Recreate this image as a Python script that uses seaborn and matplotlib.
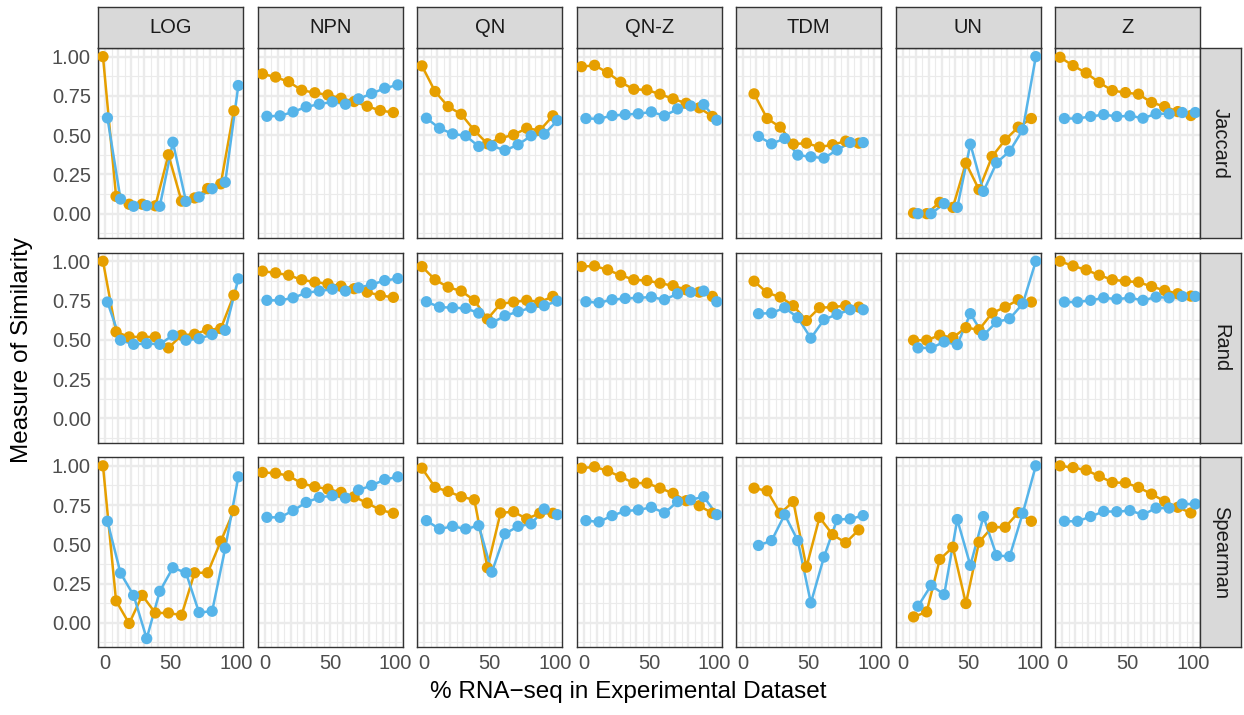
import numpy as np
import pandas as pd
import matplotlib
matplotlib.use("Agg")
import matplotlib.pyplot as plt
import seaborn as sns
from matplotlib.ticker import MultipleLocator, FuncFormatter

sns.set_theme(style="white")
plt.rcParams['font.family'] = ['Liberation Sans', 'DejaVu Sans']

# ---------------- data ----------------
methods = ["LOG", "NPN", "QN", "QN-Z", "TDM", "UN", "Z"]
metrics = ["Jaccard", "Rand", "Spearman"]
x_full = [0, 10, 20, 30, 40, 50, 60, 70, 80, 90, 100]
x_tdm = [10, 20, 30, 40, 50, 60, 70, 80, 90]
x_un = [10, 20, 30, 40, 50, 60, 70, 80, 90, 100]
x_labels = {0: "0", 50: "50", 100: "100"}
y_ticks = [0.0, 0.25, 0.5, 0.75, 1.0]

# Jaccard  (A = orange series, B = blue series)
LOG_J_A = [1.00, 0.11, 0.06, 0.06, 0.05, 0.375, 0.08, 0.10, 0.16, 0.19, 0.655]
LOG_J_B = [0.61, 0.093, 0.047, 0.051, 0.047, 0.455, 0.078, 0.106, 0.159, 0.20, 0.816]
NPN_J_A = [0.89, 0.87, 0.84, 0.786, 0.77, 0.756, 0.735, 0.714, 0.684, 0.657, 0.644]
NPN_J_B = [0.62, 0.623, 0.648, 0.68, 0.697, 0.712, 0.697, 0.731, 0.765, 0.799, 0.82]
QN_J_A = [0.941, 0.778, 0.682, 0.633, 0.53, 0.445, 0.481, 0.502, 0.544, 0.53, 0.623]
QN_J_B = [0.608, 0.544, 0.508, 0.496, 0.428, 0.432, 0.403, 0.439, 0.496, 0.506, 0.593]
QNZ_J_A = [0.936, 0.945, 0.898, 0.837, 0.792, 0.788, 0.761, 0.731, 0.703, 0.674, 0.619]
QNZ_J_B = [0.606, 0.604, 0.625, 0.631, 0.636, 0.648, 0.623, 0.667, 0.686, 0.695, 0.595]
TDM_J_A = [0.763, 0.606, 0.551, 0.443, 0.449, 0.424, 0.439, 0.462, 0.449]
TDM_J_B = [0.492, 0.445, 0.479, 0.373, 0.362, 0.354, 0.405, 0.453, 0.453]
UN_J_A = [0.004, 0.0, 0.072, 0.04, 0.322, 0.153, 0.364, 0.47, 0.551, 0.606]
UN_J_B = [0.0, 0.0, 0.064, 0.04, 0.443, 0.142, 0.324, 0.398, 0.534, 1.0]
Z_J_A = [0.996, 0.943, 0.896, 0.835, 0.784, 0.771, 0.761, 0.708, 0.682, 0.65, 0.625]
Z_J_B = [0.606, 0.606, 0.619, 0.631, 0.619, 0.623, 0.608, 0.636, 0.636, 0.644, 0.644]

# Rand
LOG_R_A = [1.0, 0.55, 0.518, 0.518, 0.518, 0.448, 0.529, 0.535, 0.564, 0.571, 0.784]
LOG_R_B = [0.74, 0.497, 0.471, 0.476, 0.471, 0.529, 0.497, 0.507, 0.533, 0.56, 0.888]
NPN_R_A = [0.937, 0.926, 0.911, 0.882, 0.867, 0.856, 0.841, 0.825, 0.803, 0.782, 0.77]
NPN_R_B = [0.751, 0.751, 0.767, 0.799, 0.81, 0.822, 0.81, 0.831, 0.852, 0.877, 0.89]
QN_R_A = [0.966, 0.882, 0.835, 0.81, 0.751, 0.632, 0.729, 0.74, 0.751, 0.74, 0.776]
QN_R_B = [0.742, 0.708, 0.704, 0.70, 0.67, 0.607, 0.653, 0.679, 0.704, 0.717, 0.746]
QNZ_R_A = [0.966, 0.97, 0.945, 0.911, 0.882, 0.877, 0.86, 0.844, 0.818, 0.803, 0.776]
QNZ_R_B = [0.742, 0.736, 0.755, 0.763, 0.767, 0.772, 0.755, 0.793, 0.803, 0.81, 0.742]
TDM_R_A = [0.873, 0.799, 0.772, 0.717, 0.622, 0.704, 0.708, 0.717, 0.708]
TDM_R_B = [0.666, 0.67, 0.704, 0.641, 0.51, 0.628, 0.662, 0.691, 0.691]
UN_R_A = [0.497, 0.497, 0.529, 0.514, 0.577, 0.564, 0.67, 0.708, 0.755, 0.74]
UN_R_B = [0.448, 0.448, 0.486, 0.469, 0.666, 0.529, 0.613, 0.634, 0.729, 1.0]
Z_R_A = [1.0, 0.97, 0.945, 0.911, 0.882, 0.873, 0.867, 0.839, 0.814, 0.793, 0.778]
Z_R_B = [0.74, 0.74, 0.751, 0.767, 0.759, 0.767, 0.751, 0.772, 0.767, 0.776, 0.776]

# Spearman
LOG_S_A = [1.0, 0.14, -0.004, 0.175, 0.063, 0.063, 0.049, 0.319, 0.319, 0.52, 0.715]
LOG_S_B = [0.647, 0.317, 0.175, -0.10, 0.201, 0.351, 0.319, 0.066, 0.074, 0.476, 0.93]
NPN_S_A = [0.958, 0.953, 0.937, 0.888, 0.867, 0.852, 0.831, 0.803, 0.763, 0.719, 0.698]
NPN_S_B = [0.672, 0.672, 0.715, 0.767, 0.799, 0.81, 0.795, 0.846, 0.875, 0.913, 0.93]
QN_S_A = [0.985, 0.863, 0.837, 0.803, 0.784, 0.351, 0.70, 0.708, 0.662, 0.698, 0.698]
QN_S_B = [0.651, 0.598, 0.615, 0.598, 0.619, 0.323, 0.567, 0.615, 0.63, 0.725, 0.689]
QNZ_S_A = [0.985, 0.994, 0.968, 0.93, 0.89, 0.89, 0.858, 0.825, 0.778, 0.746, 0.698]
QNZ_S_B = [0.651, 0.643, 0.683, 0.712, 0.719, 0.736, 0.70, 0.772, 0.784, 0.803, 0.689]
TDM_S_A = [0.858, 0.841, 0.698, 0.772, 0.355, 0.672, 0.562, 0.51, 0.592]
TDM_S_B = [0.493, 0.524, 0.689, 0.524, 0.127, 0.419, 0.658, 0.662, 0.683]
UN_S_A = [0.038, 0.07, 0.404, 0.482, 0.123, 0.514, 0.609, 0.609, 0.702, 0.647]
UN_S_B = [0.106, 0.239, 0.18, 0.658, 0.366, 0.677, 0.429, 0.423, 0.698, 1.0]
Z_S_A = [1.0, 0.989, 0.973, 0.934, 0.894, 0.892, 0.863, 0.82, 0.774, 0.736, 0.70]
Z_S_B = [0.647, 0.647, 0.677, 0.71, 0.708, 0.715, 0.689, 0.731, 0.731, 0.757, 0.757]

series_names = ["A", "B"]
palette = {"A": "#E69F00", "B": "#56B4E9"}
dodge = {"A": -1.7, "B": 1.7}

x_by_method = {"LOG": x_full, "NPN": x_full, "QN": x_full, "QN-Z": x_full,
               "TDM": x_tdm, "UN": x_un, "Z": x_full}
table = {
    "Jaccard": {"LOG": (LOG_J_A, LOG_J_B), "NPN": (NPN_J_A, NPN_J_B), "QN": (QN_J_A, QN_J_B),
                "QN-Z": (QNZ_J_A, QNZ_J_B), "TDM": (TDM_J_A, TDM_J_B), "UN": (UN_J_A, UN_J_B),
                "Z": (Z_J_A, Z_J_B)},
    "Rand": {"LOG": (LOG_R_A, LOG_R_B), "NPN": (NPN_R_A, NPN_R_B), "QN": (QN_R_A, QN_R_B),
             "QN-Z": (QNZ_R_A, QNZ_R_B), "TDM": (TDM_R_A, TDM_R_B), "UN": (UN_R_A, UN_R_B),
             "Z": (Z_R_A, Z_R_B)},
    "Spearman": {"LOG": (LOG_S_A, LOG_S_B), "NPN": (NPN_S_A, NPN_S_B), "QN": (QN_S_A, QN_S_B),
                 "QN-Z": (QNZ_S_A, QNZ_S_B), "TDM": (TDM_S_A, TDM_S_B), "UN": (UN_S_A, UN_S_B),
                 "Z": (Z_S_A, Z_S_B)},
}

records = []
for metric in metrics:
    for method in methods:
        xs = x_by_method[method]
        for sname, vals in zip(series_names, table[metric][method]):
            for x, v in zip(xs, vals):
                records.append({"metric": metric, "method": method, "series": sname,
                                "x": x, "value": v})
df = pd.DataFrame(records)
df["x_pos"] = df["x"] + df["series"].map(dodge)

# ---------------- layout ----------------
W, H = 1244, 715
fig = plt.figure(figsize=(W / 100, H / 100), dpi=100)
fig.patch.set_facecolor("white")

panel_w, panel_h = 145.3, 190.0
col_left = [98 + i * 159.5 for i in range(7)]
row_top = [48 + j * 204.6 for j in range(3)]
strip_sz = 40.7

def fx(px):
    return px / W

def fy(py):
    return 1 - py / H

border = "#333333"
grid_c = "#EBEBEB"
tick_fs = 14.5
strip_fs = 14.5

for j, metric in enumerate(metrics):
    for i, method in enumerate(methods):
        l, t = col_left[i], row_top[j]
        ax = fig.add_axes([fx(l), fy(t + panel_h), panel_w / W, panel_h / H])
        ax.set_facecolor("white")
        sub = df[(df["metric"] == metric) & (df["method"] == method)]
        sns.lineplot(data=sub, x="x_pos", y="value", hue="series", hue_order=series_names,
                     palette=palette, estimator=None, linewidth=1.8, legend=False, ax=ax,
                     zorder=2)
        sns.scatterplot(data=sub, x="x_pos", y="value", hue="series", hue_order=series_names,
                        palette=palette, s=66, linewidth=0, legend=False, ax=ax, zorder=3)
        ax.set_xlim(-5.5, 105.5)
        ax.set_ylim(-0.155, 1.055)
        ax.xaxis.set_major_locator(MultipleLocator(10))
        ax.xaxis.set_minor_locator(MultipleLocator(5))
        ax.yaxis.set_major_locator(MultipleLocator(0.25))
        ax.yaxis.set_minor_locator(MultipleLocator(0.125))
        ax.grid(which="major", color=grid_c, linewidth=1.7)
        ax.grid(which="minor", color=grid_c, linewidth=0.85)
        ax.set_axisbelow(True)
        for sp in ax.spines.values():
            sp.set_color(border)
            sp.set_linewidth(1.0)
        ax.set_xlabel("")
        ax.set_ylabel("")
        ax.tick_params(which="minor", length=0)
        ax.xaxis.set_major_formatter(FuncFormatter(lambda v, p: x_labels.get(int(round(v)), "")))
        ax.yaxis.set_major_formatter(FuncFormatter(lambda v, p: f"{v:.2f}"))
        ax.tick_params(axis="both", which="major", colors=border, labelcolor="#4D4D4D",
                       labelsize=tick_fs, length=3.2, width=1.0, pad=2)
        if j != len(metrics) - 1:
            ax.tick_params(axis="x", length=0, labelbottom=False)
        if i != 0:
            ax.tick_params(axis="y", length=0, labelleft=False)

        # top strips
        if j == 0:
            sax = fig.add_axes([fx(l), fy(t), panel_w / W, (t - 7.3) / H])
            sax.set_facecolor("#D9D9D9")
            sax.set_xticks([]); sax.set_yticks([])
            for sp in sax.spines.values():
                sp.set_color(border); sp.set_linewidth(1.0)
            sax.text(0.5, 0.5, method, ha="center", va="center", fontsize=strip_fs,
                     color="#1A1A1A", transform=sax.transAxes)
        # right strips
        if i == len(methods) - 1:
            rax = fig.add_axes([fx(l + panel_w), fy(t + panel_h), strip_sz / W, panel_h / H])
            rax.set_facecolor("#D9D9D9")
            rax.set_xticks([]); rax.set_yticks([])
            for sp in rax.spines.values():
                sp.set_color(border); sp.set_linewidth(1.0)
            rax.text(0.5, 0.5, metric, ha="center", va="center", rotation=-90,
                     fontsize=strip_fs, color="#1A1A1A", transform=rax.transAxes)

fig.text(fx(628), fy(692), "% RNA\u2212seq in Experimental Dataset",
         ha="center", va="center", fontsize=17.5, color="black")
fig.text(fx(22), fy(350), "Measure of Similarity", ha="center", va="center",
         rotation=90, fontsize=17.5, color="black")

fig.savefig("out.png", dpi=100, facecolor="white")
